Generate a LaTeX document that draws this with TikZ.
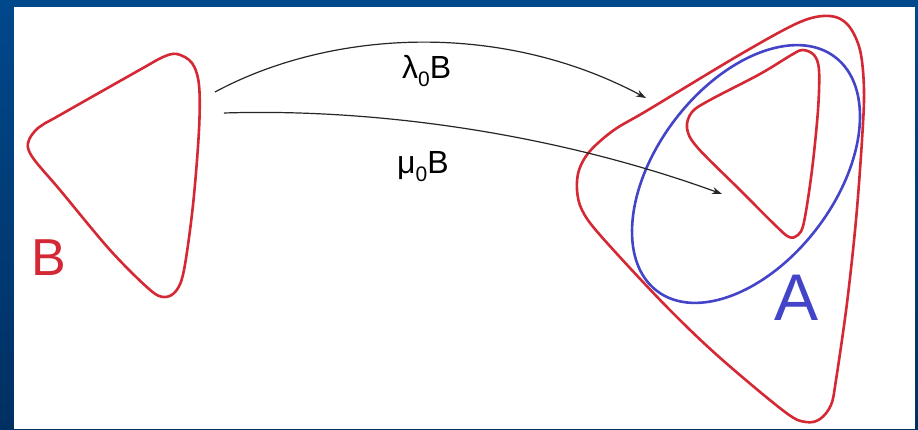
\documentclass[tikz,border=0pt]{standalone}
\usepackage{fontspec}
\setmainfont{Liberation Sans}
\usetikzlibrary{arrows.meta}
\definecolor{frametop}{RGB}{0,72,140}
\definecolor{framebot}{RGB}{0,48,98}
\definecolor{setred}{RGB}{212,40,52}
\definecolor{setblue}{RGB}{68,68,200}
\newcommand\lowzero{\raisebox{-0.28em}{\fontsize{21}{21}\selectfont 0}}
\begin{document}
\begin{tikzpicture}[x=1pt,y=-1pt,
  setline/.style={line width=2.6pt, line join=round},
  mapping/.style={line width=1.2pt, draw=black!85, -{Stealth[length=10pt,width=7pt]}},
  maplabel/.style={font=\fontsize{32}{32}\selectfont, anchor=base west, inner sep=0pt}]
\useasboundingbox (0,0) rectangle (918,429);
% slide frame and white canvas
\shade[top color=frametop, bottom color=framebot] (0,0) rectangle (918,429);
\fill[white] (14,7) rectangle (915,429);

% set B
\draw[setred, setline] plot[smooth cycle, tension=0.55] coordinates {
  (177,54) (192,63) (199,85) (199,130) (193,205) (184,270) (176,291) (164,297)
  (149,289) (110,250) (60,190) (33,158) (28,143) (38,128) (60,115) (143,68) (163,57)};
\node[text=setred, font=\fontsize{52}{52}\selectfont, anchor=base west, inner sep=0pt] (labB) at (31,275) {B};

% large image of B
\draw[setred, setline] plot[smooth cycle, tension=0.55] coordinates {
  (800,22) (830,16) (848,25) (860,50) (864,90) (862,140) (856,220) (847,303)
  (836,380) (831,405) (820,419) (806,422) (785,412) (718,356) (663,303)
  (600,235) (582,210) (577,190) (579,170) (590,151) (614,130) (648,110) (741,54)};

% small image of B
\draw[setred, setline] plot[smooth cycle, tension=0.55] coordinates {
  (803,50) (814,55) (819,70) (818,110) (812,170) (804,222) (798,235) (789,237)
  (775,225) (740,190) (697,147) (687,128) (692,112) (710,100) (760,74) (793,54)};

% set A
\draw[setblue, setline, rotate around={52.7:(746,174)}] (746,174) ellipse [x radius=147, y radius=89.4];
\node[text=setblue, font=\fontsize{66}{66}\selectfont, anchor=base west, inner sep=0pt] (labA) at (774,320) {A};

% the two maps
\coordinate (lamfrom) at (215,92);
\coordinate (lamto) at (646,98);
\coordinate (mufrom) at (224,113);
\coordinate (muto) at (722,194);
\draw[mapping] (lamfrom) .. controls (330,30) and (500,20) .. (lamto);
\draw[mapping] (mufrom) .. controls (380,108) and (560,135) .. (muto);
\node[maplabel] (lamlab) at (402,78) {λ\lowzero B};
\node[maplabel] (mulab) at (397,173) {μ\lowzero B};
\end{tikzpicture}
\end{document}
